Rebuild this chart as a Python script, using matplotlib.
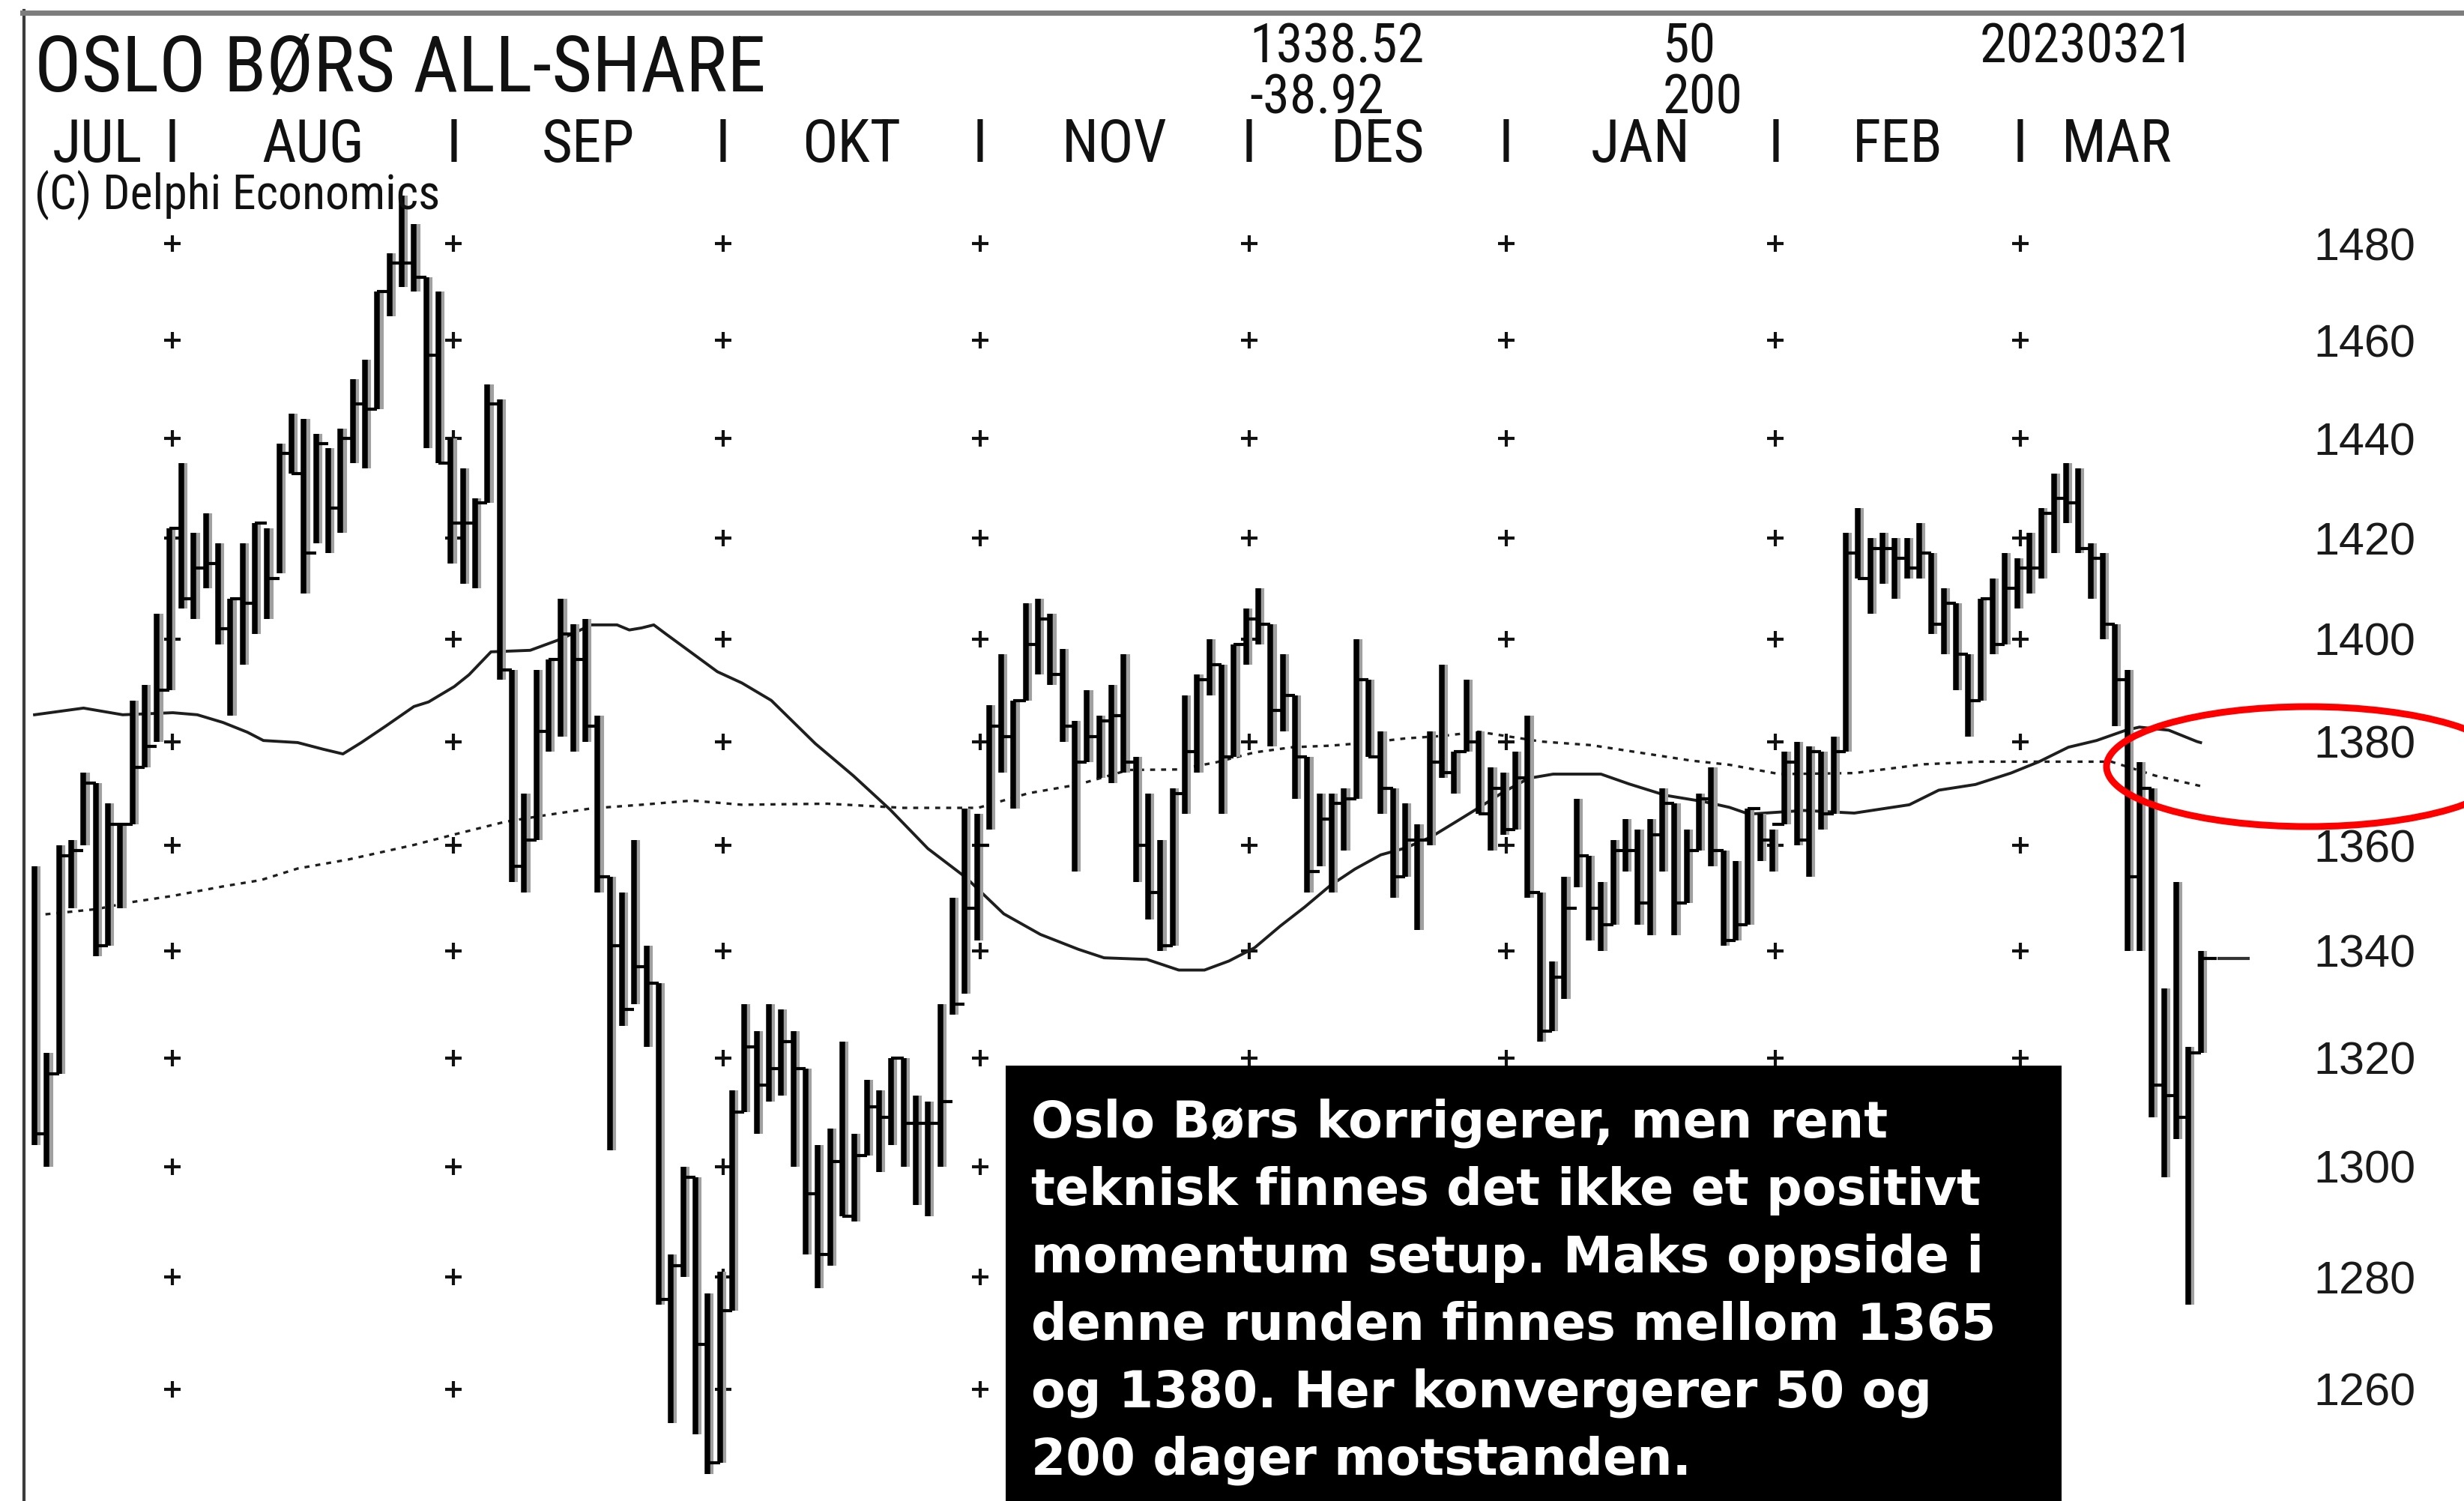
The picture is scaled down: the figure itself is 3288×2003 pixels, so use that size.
#!/usr/bin/env python3
# -*- coding: utf-8 -*-
"""
Oslo Børs All-Share, daily high/low/close bars with 50 and 200 day averages.

Outputs:
    out.png
"""

import numpy as np
import matplotlib
matplotlib.use("Agg")
import matplotlib.pyplot as plt
import matplotlib.transforms as mtransforms
from matplotlib import font_manager
from matplotlib.lines import Line2D
from matplotlib.patches import Ellipse, Rectangle
from matplotlib.ticker import FixedLocator, NullLocator

W, H, DPI = 3288, 2003, 100

# daily bars, index 0 = first session shown (mid July 2022), last = 2023-03-21
HIGH = [
    1356, 1321, 1360, 1361, 1374, 1372, 1368, 1364, 1388, 1391, 1405, 1422,
    1435, 1421, 1425, 1419, 1408, 1419, 1423, 1422, 1439, 1445, 1444, 1441,
    1438, 1442, 1452, 1456, 1470, 1478, 1490, 1484, 1473, 1470, 1440, 1434,
    1428, 1451, 1448, 1394, 1370, 1394, 1396, 1408, 1403, 1404, 1385, 1354,
    1351, 1361, 1341, 1334, 1284, 1300, 1298, 1277, 1281, 1314, 1330, 1325,
    1330, 1329, 1325, 1318, 1304, 1307, 1323, 1306, 1316, 1314, 1320, 1320,
    1313, 1312, 1330, 1350, 1367, 1366, 1387, 1397, 1388, 1407, 1408, 1405,
    1398, 1384, 1390, 1385, 1391, 1397, 1377, 1370, 1361, 1371, 1389, 1393,
    1400, 1395, 1399, 1406, 1410, 1403, 1397, 1389, 1377, 1370, 1370, 1371,
    1400, 1392, 1382, 1371, 1368, 1364, 1382, 1395, 1378, 1392, 1382, 1375,
    1374, 1378, 1385, 1351, 1338, 1354, 1369, 1358, 1353, 1361, 1365, 1363,
    1365, 1371, 1368, 1363, 1370, 1375, 1359, 1357, 1367, 1366, 1363, 1378,
    1380, 1379, 1378, 1381, 1421, 1426, 1420, 1421, 1420, 1420, 1423, 1417,
    1410, 1407, 1397, 1408, 1412, 1417, 1416, 1421, 1426, 1433, 1435, 1434,
    1419, 1417, 1403, 1394, 1376, 1371, 1333, 1353, 1322, 1340,
]
LOW = [
    1304, 1300, 1317, 1348, 1360, 1339, 1341, 1348, 1364, 1375, 1380, 1390,
    1406, 1404, 1410, 1399, 1385, 1395, 1401, 1404, 1413, 1433, 1409, 1419,
    1417, 1421, 1435, 1434, 1446, 1465, 1471, 1470, 1438, 1435, 1415, 1411,
    1410, 1427, 1392, 1353, 1351, 1361, 1378, 1381, 1378, 1380, 1351, 1303,
    1326, 1330, 1322, 1275, 1254, 1280, 1252, 1245, 1247, 1274, 1310, 1306,
    1312, 1313, 1300, 1284, 1278, 1282, 1291, 1290, 1302, 1299, 1304, 1300,
    1293, 1291, 1300, 1328, 1332, 1342, 1363, 1374, 1367, 1388, 1393, 1391,
    1380, 1355, 1376, 1373, 1372, 1374, 1353, 1346, 1340, 1341, 1366, 1374,
    1389, 1366, 1377, 1395, 1399, 1379, 1382, 1369, 1351, 1356, 1351, 1359,
    1369, 1377, 1366, 1350, 1354, 1344, 1360, 1373, 1370, 1378, 1366, 1359,
    1362, 1363, 1350, 1323, 1325, 1331, 1352, 1342, 1340, 1345, 1355, 1345,
    1343, 1355, 1343, 1349, 1359, 1356, 1341, 1342, 1345, 1357, 1355, 1364,
    1360, 1354, 1363, 1366, 1378, 1412, 1405, 1411, 1408, 1412, 1412, 1401,
    1397, 1390, 1381, 1388, 1397, 1399, 1406, 1409, 1412, 1417, 1423, 1417,
    1408, 1400, 1383, 1340, 1340, 1309, 1298, 1305, 1275, 1321,
]
CLOSE = [
    1306, 1317, 1358, 1359, 1372, 1341, 1364, 1364, 1375, 1379, 1390, 1422,
    1408, 1414, 1415, 1402, 1408, 1407, 1423, 1412, 1437, 1433, 1417, 1439,
    1426, 1440, 1447, 1446, 1470, 1476, 1476, 1473, 1457, 1435, 1423, 1423,
    1427, 1447, 1394, 1356, 1361, 1382, 1396, 1401, 1396, 1383, 1354, 1341,
    1329, 1337, 1334, 1276, 1282, 1298, 1268, 1247, 1274, 1310, 1322, 1315,
    1318, 1323, 1318, 1295, 1284, 1301, 1291, 1302, 1311, 1309, 1320, 1308,
    1308, 1308, 1312, 1330, 1348, 1360, 1383, 1381, 1388, 1399, 1404, 1393,
    1383, 1376, 1381, 1384, 1385, 1376, 1360, 1351, 1341, 1370, 1378, 1392,
    1395, 1377, 1399, 1404, 1403, 1386, 1389, 1377, 1355, 1365, 1368, 1369,
    1392, 1377, 1371, 1354, 1361, 1361, 1376, 1374, 1378, 1380, 1366, 1371,
    1363, 1373, 1351, 1325, 1335, 1348, 1358, 1348, 1345, 1359, 1359, 1349,
    1362, 1368, 1349, 1359, 1369, 1359, 1342, 1345, 1367, 1361, 1364, 1376,
    1361, 1378, 1366, 1378, 1417, 1412, 1418, 1418, 1416, 1414, 1417, 1403,
    1407, 1397, 1388, 1408, 1399, 1410, 1414, 1414, 1425, 1428, 1427, 1418,
    1416, 1403, 1392, 1354, 1371, 1315, 1313, 1309, 1321, 1338.52,
]

# moving averages (bar index, level)
MA50_X = [0, 4, 7.2, 11.3, 13.3, 15.4, 17.4, 18.7, 21.5, 23.6, 25.2, 26.7,
          28.7, 31, 32.2, 34.3, 35.5, 37.3, 40.5, 43, 45.5, 47.6, 48.6, 49.6,
          50.6, 51.6, 53.7, 55.8, 57.8, 60.2, 63.8, 66.9, 69.9, 73, 76.1, 79.2,
          82.2, 85.3, 87.4, 90.9, 93.5, 95.6, 97.6, 99.7, 101.8, 103.8, 105.9,
          107.9, 110, 112, 114.1, 116.2, 118.2, 120, 122.1, 124.1, 128, 130.3,
          133.3, 136.4, 138.5, 140.1, 144.6, 148.7, 153.2, 155.6, 158.6, 161.5,
          163.8, 166.2, 168.5, 170.9, 172, 174.4, 176.7, 177]
MA50_Y = [1385.2, 1386.5, 1385.2, 1385.6, 1385.2, 1383.7, 1381.8, 1380.2,
          1379.8, 1378.5, 1377.6, 1379.8, 1383.0, 1386.8, 1387.7, 1390.7,
          1393.0, 1397.5, 1397.8, 1400.0, 1402.8, 1402.8, 1401.8, 1402.2,
          1402.8, 1401.0, 1397.3, 1393.6, 1391.4, 1388.0, 1379.6, 1373.4,
          1366.9, 1359.4, 1353.9, 1347.0, 1343.1, 1340.3, 1338.7, 1338.4,
          1336.4, 1336.4, 1338.1, 1340.6, 1344.7, 1348.3, 1352.4, 1355.5,
          1358.2, 1359.5, 1361.6, 1364.6, 1367.5, 1370.2, 1372.9, 1373.7,
          1373.7, 1371.8, 1369.6, 1368.4, 1367.3, 1366.0, 1366.7, 1366.2,
          1367.8, 1370.6, 1371.7, 1373.9, 1376.1, 1378.9, 1380.2, 1382.2,
          1382.8, 1382.2, 1380.0, 1379.8]
MA200_X = [0, 5.1, 7.6, 11.3, 15.4, 18.5, 21.5, 25.6, 28.7, 31, 34.3, 38.4,
           41.5, 45.5, 49.6, 53.7, 57.8, 64.8, 71, 77.1, 81.2, 85.3, 89.4,
           93.5, 96.6, 99.7, 102.8, 105.9, 109, 112, 115.1, 118, 123.1, 127.2,
           131.3, 135.4, 138.5, 142.6, 148.7, 154.4, 159, 163.8, 169.7, 173.3,
           177]
MA200_Y = [1346.7, 1347.9, 1349.1, 1350.4, 1352.2, 1353.4, 1355.6, 1357.3,
           1358.9, 1360.1, 1362.1, 1364.5, 1365.7, 1367.1, 1367.8, 1368.6,
           1367.8, 1368.0, 1367.2, 1367.2, 1370.0, 1371.7, 1374.5, 1374.6,
           1376.0, 1377.9, 1378.9, 1379.2, 1379.8, 1380.6, 1381.1, 1381.9,
           1380.0, 1379.3, 1377.8, 1376.3, 1375.5, 1373.7, 1373.9, 1375.6,
           1376.1, 1376.1, 1376.1, 1373.4, 1371.4]

MONTHS = ["JUL", "AUG", "SEP", "OKT", "NOV", "DES", "JAN", "FEB", "MAR"]
MONTH_START = [12, 35, 57, 78, 100, 121, 143, 163]  # first bar of AUG..MAR
PRICE_TICKS = [1260, 1280, 1300, 1320, 1340, 1360, 1380, 1400, 1420, 1440, 1460, 1480]

TITLE = "OSLO BØRS ALL-SHARE"
LAST_TXT, CHANGE_TXT = "1338.52", "-38.92"
MA_FAST, MA_SLOW = "50", "200"
DATE_TXT = "20230321"
COPYRIGHT = "(C) Delphi Economics"
NOTE_LINES = [
    "Oslo Børs korrigerer, men rent",
    "teknisk finnes det ikke et positivt",
    "momentum setup. Maks oppside i",
    "denne runden finnes mellom 1365",
    "og 1380. Her konvergerer 50 og",
    "200 dager motstanden.",
]

# layout, in output pixels
AX_L, AX_R, AX_T = 32, 3080, 200
BAR0_PX, BAR_STEP_PX = 46.1, 16.33
Y1480_PX, PX_PER_LN = 325, 9499


def pick_family(candidates):
    names = {f.name for f in font_manager.fontManager.ttflist}
    for c in candidates:
        if c in names:
            return c
    return "DejaVu Sans"


NARROW = pick_family(["Liberation Sans Narrow", "Arial Narrow", "Roboto Condensed", "Liberation Sans"])
REGULAR = pick_family(["Liberation Sans", "Arial"])


def fx(x):
    return x / W


def fy(y):
    return 1 - y / H


def ftext(fig, x, y, s, size, family=None, **kw):
    fig.text(fx(x), fy(y), s, fontsize=size, family=family or NARROW,
             va="baseline", ha=kw.pop("ha", "left"), color=kw.pop("color", "#111111"), **kw)


def main():
    n = len(CLOSE)
    assert len(HIGH) == n and len(LOW) == n
    x = np.arange(n)

    fig = plt.figure(figsize=(W / DPI, H / DPI), dpi=DPI)
    fig.patch.set_facecolor("white")
    ax = fig.add_axes([fx(AX_L), 0, (AX_R - AX_L) / W, 1 - AX_T / H])
    ax.set_facecolor("none")
    ax.set_yscale("log")
    ax.set_xlim((AX_L - BAR0_PX) / BAR_STEP_PX, (AX_R - BAR0_PX) / BAR_STEP_PX)
    ax.set_ylim(1480 * np.exp(-(H - Y1480_PX) / PX_PER_LN), 1480 * np.exp((Y1480_PX - AX_T) / PX_PER_LN))
    for s in ax.spines.values():
        s.set_visible(False)
    ax.set_xticks([])
    ax.yaxis.tick_right()
    ax.yaxis.set_major_locator(FixedLocator(PRICE_TICKS))
    ax.yaxis.set_minor_locator(NullLocator())
    ax.set_yticklabels([str(p) for p in PRICE_TICKS])
    ax.tick_params(axis="y", length=0, pad=5, labelsize=44, labelcolor="#1a1a1a")
    for lbl in ax.get_yticklabels():
        lbl.set_fontfamily(REGULAR)

    # month grid crosses
    seps = [m - 0.75 for m in MONTH_START]
    gx, gy = np.meshgrid(seps, PRICE_TICKS)
    ax.plot(gx.ravel(), gy.ravel(), "+", color="#111111", ms=16, mew=3.0, zorder=1)

    # averages
    ax.plot(MA50_X, MA50_Y, color="#1e1e1e", lw=2.8, zorder=2)
    ax.plot(MA200_X, MA200_Y, color="#1e1e1e", lw=2.4, ls=(0, (2, 2.4)), zorder=2)

    # bars: shadow, high-low, close tick
    ax.vlines(x + 0.32, LOW, HIGH, color="#a0a0a0", lw=4.4, zorder=3)
    ax.vlines(x, LOW, HIGH, color="black", lw=5.4, zorder=4)
    ax.hlines(CLOSE[:-1], x[:-1], x[:-1] + 1, color="black", lw=3.0, zorder=4)
    ax.hlines(CLOSE[-1], x[-1], x[-1] + 1.3, color="black", lw=3.0, zorder=4)
    ax.hlines(CLOSE[-1], x[-1] + 1.4, x[-1] + 4.0, color="#333333", lw=3.0, zorder=4)

    # header
    ftext(fig, 46, 122, TITLE, 75)
    ftext(fig, 1667, 84, LAST_TXT, 52)
    ftext(fig, 1667, 151, CHANGE_TXT, 52)
    ftext(fig, 2219, 84, MA_FAST, 52)
    ftext(fig, 2219, 151, MA_SLOW, 52)
    ftext(fig, 2642, 84, DATE_TXT, 52)
    ftext(fig, 46, 279, COPYRIGHT, 46)

    blend = mtransforms.blended_transform_factory(ax.transData, fig.transFigure)
    edges = [-1] + seps + [n]
    for i, name in enumerate(MONTHS):
        fig.text((edges[i] + edges[i + 1]) / 2, fy(216), name, transform=blend, fontsize=57,
                 family=NARROW, ha="center", va="baseline", color="#111111")
    for s in seps:
        fig.text(s, fy(216), "I", transform=blend, fontsize=57, family=NARROW,
                 ha="center", va="baseline", color="#111111")

    # frame
    fig.add_artist(Line2D([fx(AX_L), fx(AX_L)], [0, fy(14)], transform=fig.transFigure,
                          color="#3c3c3c", lw=3.0))
    fig.add_artist(Line2D([fx(AX_L) - 0.0005, 1], [fy(17), fy(17)], transform=fig.transFigure,
                          color="#7d7d7d", lw=5.0))

    # comment box
    fig.add_artist(Rectangle((fx(1342), 0), fx(2751 - 1342), (H - 1422) / H,
                             transform=fig.transFigure, facecolor="black", edgecolor="none", zorder=5))
    for k, line in enumerate(NOTE_LINES):
        fig.text(fx(1376), fy(1518 + 90 * k), line, fontsize=48, family="DejaVu Sans",
                 fontweight="bold", color="white", va="baseline", ha="left", zorder=6)

    # red ring around the 1365-1380 zone
    fig.add_artist(Ellipse((fx(3080), fy(1023)), fx(2 * 269), 160 / H, transform=fig.transFigure,
                           fill=False, edgecolor="#ff0000", lw=6.5, zorder=7))

    fig.savefig("out.png", dpi=DPI)
    plt.close(fig)
    print("[SAVE] out.png", NARROW, REGULAR)


if __name__ == "__main__":
    main()
